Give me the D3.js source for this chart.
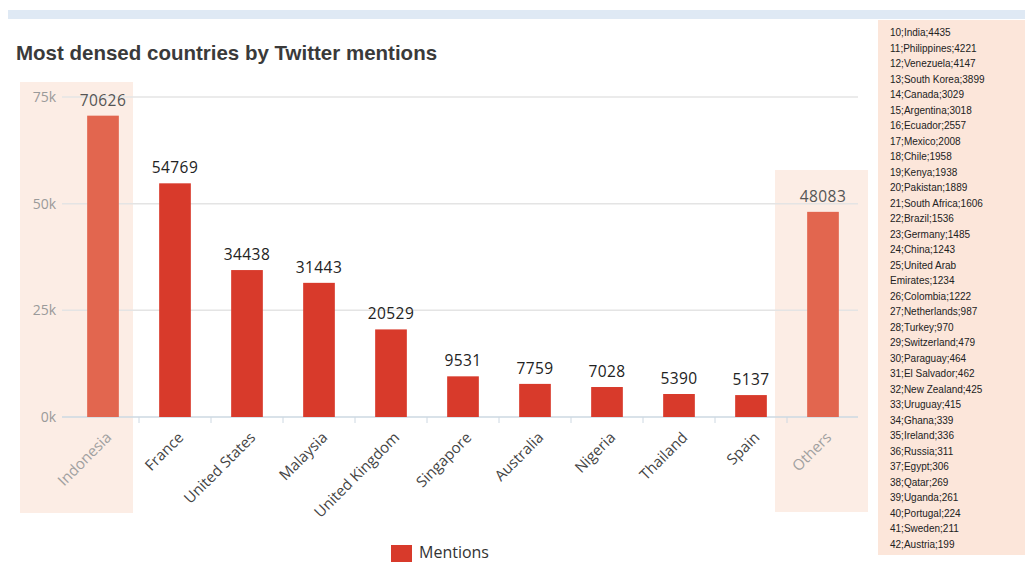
<!DOCTYPE html>
<html>
<head>
<meta charset="utf-8">
<script src="https://cdn.jsdelivr.net/npm/d3@7"></script>
<style>
  body { margin: 0; background: #fff; }
  svg { display: block; }
</style>
</head>
<body>
<div id="chart"></div>
<script>
// top 10 countries plus the rest grouped as "Others"
var countries = ["Indonesia", "France", "United States", "Malaysia", "United Kingdom",
  "Singapore", "Australia", "Nigeria", "Thailand", "Spain", "Others"];
var mentions = [70626, 54769, 34438, 31443, 20529, 9531, 7759, 7028, 5390, 5137, 48083];
var highlighted = ["Indonesia", "Others"];
var yTicks = [0, 25000, 50000, 75000];

// the list in the side box (what "Others" is made of)
var otherRanks = [10, 11, 12, 13, 14, 15, 16, 17, 18, 19, 20, 21, 22, 23, 24, 25, 26, 27, 28, 29,
  30, 31, 32, 33, 34, 35, 36, 37, 38, 39, 40, 41, 42];
var otherNames = ["India", "Philippines", "Venezuela", "South Korea", "Canada", "Argentina", "Ecuador",
  "Mexico", "Chile", "Kenya", "Pakistan", "South Africa", "Brazil", "Germany", "China",
  "United Arab Emirates", "Colombia", "Netherlands", "Turkey", "Switzerland", "Paraguay",
  "El Salvador", "New Zealand", "Uruguay", "Ghana", "Ireland", "Russia", "Egypt", "Qatar",
  "Uganda", "Portugal", "Sweden", "Austria"];
var otherValues = [4435, 4221, 4147, 3899, 3029, 3018, 2557, 2008, 1958, 1938, 1889, 1606, 1536, 1485,
  1243, 1234, 1222, 987, 970, 479, 464, 462, 425, 415, 339, 336, 311, 306, 269, 261, 224, 211, 199];

var W = 1025, H = 563;
var font = "'Open Sans', 'DejaVu Sans', sans-serif";

var svg = d3.select("#chart").append("svg")
  .attr("width", W)
  .attr("height", H)
  .style("font-family", font);

// light blue strip at the top
svg.append("rect").attr("x", 8).attr("y", 10).attr("width", W - 8).attr("height", 9)
  .attr("fill", "#dfe9f4");

svg.append("text")
  .attr("x", 16).attr("y", 60)
  .style("font-family", "'Liberation Sans', Arial, sans-serif")
  .style("font-size", "20.5px")
  .style("font-weight", "bold")
  .attr("fill", "#3a3a3a")
  .text("Most densed countries by Twitter mentions");

var x = d3.scaleBand().domain(countries).range([67, 859]).paddingInner(0.56).paddingOuter(0.28);
var y = d3.scaleLinear().domain([0, 75000]).range([417, 97]);

// peach panels behind the highlighted columns
svg.append("rect").attr("x", 20).attr("y", 82).attr("width", 113).attr("height", 431).attr("fill", "#fcede5");
svg.append("rect").attr("x", 775).attr("y", 170).attr("width", 93).attr("height", 342).attr("fill", "#fcede5");

// gridlines
svg.append("g").selectAll("line")
  .data(yTicks.slice(1))
  .enter().append("line")
  .attr("x1", 62).attr("x2", 858)
  .attr("y1", function(d) { return y(d); })
  .attr("y2", function(d) { return y(d); })
  .attr("stroke", "#e4e4e4").attr("stroke-width", 1.5);

// y axis labels
var yAxis = svg.append("g")
  .attr("transform", "translate(60,0)")
  .call(d3.axisLeft(y).tickValues(yTicks).tickSize(0).tickPadding(4)
    .tickFormat(function(d) { return (d / 1000) + "k"; }));
yAxis.select(".domain").remove();
yAxis.selectAll("text")
  .style("font-family", font).style("font-size", "14px").attr("fill", "#9a9a9a");

// x axis with ticks between bands
var step = x.step();
var xAxis = svg.append("g")
  .attr("transform", "translate(0," + y(0) + ")");
xAxis.append("line").attr("x1", 62).attr("x2", 858).attr("stroke", "#cdd8e2").attr("stroke-width", 1.5);
xAxis.selectAll(".tk")
  .data(countries.slice(1))
  .enter().append("line")
  .attr("x1", function(d) { return x(d) + x.bandwidth() / 2 - step / 2; })
  .attr("x2", function(d) { return x(d) + x.bandwidth() / 2 - step / 2; })
  .attr("y1", 0).attr("y2", 6)
  .attr("stroke", "#cdd8e2");

xAxis.selectAll(".lbl")
  .data(countries)
  .enter().append("text")
  .attr("transform", function(d) {
    return "translate(" + (x(d) + x.bandwidth() / 2 + 2) + ",14) rotate(-45)";
  })
  .attr("text-anchor", "end")
  .attr("dy", "0.7em")
  .style("font-size", "15px")
  .attr("fill", function(d) { return highlighted.indexOf(d) >= 0 ? "#a0a0a0" : "#444"; })
  .text(function(d) { return d; });

// bars
svg.append("g").selectAll("rect")
  .data(countries)
  .enter().append("rect")
  .attr("x", function(d) { return x(d); })
  .attr("width", x.bandwidth())
  .attr("y", function(d, i) { return y(mentions[i]); })
  .attr("height", function(d, i) { return y(0) - y(mentions[i]); })
  .attr("fill", function(d) { return highlighted.indexOf(d) >= 0 ? "#e2664f" : "#d83a2b"; });

// value labels
svg.append("g").selectAll("text")
  .data(countries)
  .enter().append("text")
  .attr("x", function(d) { return x(d) + x.bandwidth() / 2; })
  .attr("y", function(d, i) { return Math.max(y(mentions[i]) - 10, 104); })
  .attr("text-anchor", "middle")
  .style("font-size", "15.5px")
  .style("letter-spacing", "0.4px")
  .attr("fill", function(d) { return highlighted.indexOf(d) >= 0 ? "#555" : "#222"; })
  .text(function(d, i) { return mentions[i]; });

// legend
svg.append("rect").attr("x", 391).attr("y", 545).attr("width", 21).attr("height", 17).attr("fill", "#d83a2b");
svg.append("text").attr("x", 419).attr("y", 558)
  .style("font-size", "16px").attr("fill", "#333").text("Mentions");

// side box with the rest of the countries
svg.append("rect").attr("x", 878).attr("y", 20).attr("width", W - 878).attr("height", 535)
  .attr("fill", "#fce6da");

var lines = [];
otherNames.forEach(function(n, i) {
  var s = otherRanks[i] + ";" + n + ";" + otherValues[i];
  if (s.length > 22) {
    // wrap long entries like the original
    var cut = s.lastIndexOf(" ", 22);
    lines.push(s.slice(0, cut));
    lines.push(s.slice(cut + 1));
  } else {
    lines.push(s);
  }
});

svg.append("g").selectAll("text")
  .data(lines)
  .enter().append("text")
  .attr("x", 890)
  .attr("y", function(d, i) { return 36 + i * 15.5; })
  .style("font-family", "'Liberation Sans', Arial, sans-serif")
  .style("font-size", "10px")
  .attr("fill", "#222")
  .text(function(d) { return d; });
</script>
</body>
</html>
